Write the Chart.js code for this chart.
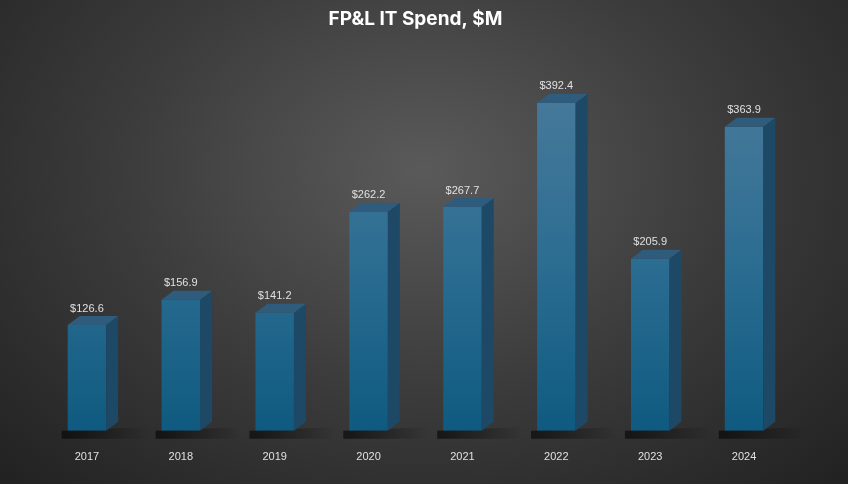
<!DOCTYPE html>
<html lang="en">
<head>
  <meta charset="utf-8" />
  <title>FP&amp;L IT Spend</title>
  <style>
    html, body { margin: 0; padding: 0; }
    body {
      width: 848px; height: 484px; overflow: hidden;
      background: radial-gradient(ellipse 70% 90% at 50% 35%, #5a5a5a 0%, #3c3c3c 50%, #222 100%);
    }
    canvas { display: block; }
  </style>
</head>
<body>
  <canvas id="chart" width="848" height="484"></canvas>
  <script src="https://cdn.jsdelivr.net/npm/chart.js@4/dist/chart.umd.min.js"></script>
  <script>
    // chart values
    const years = ["2017", "2018", "2019", "2020", "2021", "2022", "2023", "2024"];
    const spend = [126.6, 156.9, 141.2, 262.2, 267.7, 392.4, 205.9, 363.9];

    const DEPTH_X = 12, DEPTH_Y = 9;

    // draws the shadow, side and top faces plus value labels
    const bar3d = {
      id: 'bar3d',
      beforeDatasetsDraw(chart) {
        const ctx = chart.ctx;
        const bars = chart.getDatasetMeta(0).data;
        ctx.save();
        bars.forEach(b => {
          const half = b.width / 2;
          const g = ctx.createLinearGradient(b.x - half, 0, b.x + half + 40, 0);
          g.addColorStop(0, 'rgba(0,0,0,0.55)');
          g.addColorStop(1, 'rgba(0,0,0,0)');
          ctx.fillStyle = g;
          ctx.beginPath();
          ctx.moveTo(b.x - half - 6, b.base);
          ctx.lineTo(b.x + half + 50, b.base - 4);
          ctx.lineTo(b.x + half + 40, b.base + 8);
          ctx.lineTo(b.x - half - 6, b.base + 8);
          ctx.closePath();
          ctx.fill();
        });
        ctx.restore();
      },
      afterDatasetsDraw(chart) {
        const ctx = chart.ctx;
        const bars = chart.getDatasetMeta(0).data;
        ctx.save();
        bars.forEach((b, i) => {
          const l = b.x - b.width / 2, r = b.x + b.width / 2;
          // side face
          ctx.fillStyle = '#1d4966';
          ctx.beginPath();
          ctx.moveTo(r, b.y);
          ctx.lineTo(r + DEPTH_X, b.y - DEPTH_Y);
          ctx.lineTo(r + DEPTH_X, b.base - DEPTH_Y);
          ctx.lineTo(r, b.base);
          ctx.closePath();
          ctx.fill();
          // top face
          ctx.fillStyle = '#2f5c7c';
          ctx.beginPath();
          ctx.moveTo(l, b.y);
          ctx.lineTo(l + DEPTH_X, b.y - DEPTH_Y);
          ctx.lineTo(r + DEPTH_X, b.y - DEPTH_Y);
          ctx.lineTo(r, b.y);
          ctx.closePath();
          ctx.fill();
          // value label
          ctx.fillStyle = '#e0e0e0';
          ctx.font = '11px "Liberation Sans", Arial, sans-serif';
          ctx.textAlign = 'center';
          ctx.textBaseline = 'bottom';
          ctx.fillText('$' + spend[i].toFixed(1), b.x, b.y - 11);
        });
        ctx.restore();
      }
    };

    new Chart(document.getElementById('chart'), {
      type: 'bar',
      data: {
        labels: years,
        datasets: [{
          data: spend,
          barPercentage: 0.41,
          categoryPercentage: 1,
          backgroundColor: function(c) {
            const area = c.chart.chartArea;
            if (!area) return '#1a6288';
            const g = c.chart.ctx.createLinearGradient(0, area.top, 0, area.bottom);
            g.addColorStop(0, '#4d7c9c');
            g.addColorStop(0.55, '#2c6d92');
            g.addColorStop(1, '#0f5a80');
            return g;
          }
        }]
      },
      options: {
        responsive: false,
        animation: false,
        devicePixelRatio: 1,
        layout: { padding: { left: 40, right: 57, bottom: 8 } },
        plugins: {
          legend: { display: false },
          tooltip: { enabled: false },
          title: {
            display: true,
            text: 'FP&L IT Spend, $M',
            color: '#ffffff',
            font: { family: 'Inter, "Open Sans", sans-serif', size: 19, weight: 'bold' },
            padding: { top: 8, bottom: 24 }
          }
        },
        scales: {
          x: {
            grid: { display: false },
            border: { display: false },
            ticks: { color: '#e0e0e0', padding: 12, font: { family: '"Liberation Sans", Arial, sans-serif', size: 11 } }
          },
          y: { display: false, min: 0, max: 450 }
        }
      },
      plugins: [bar3d]
    });
  </script>
</body>
</html>
